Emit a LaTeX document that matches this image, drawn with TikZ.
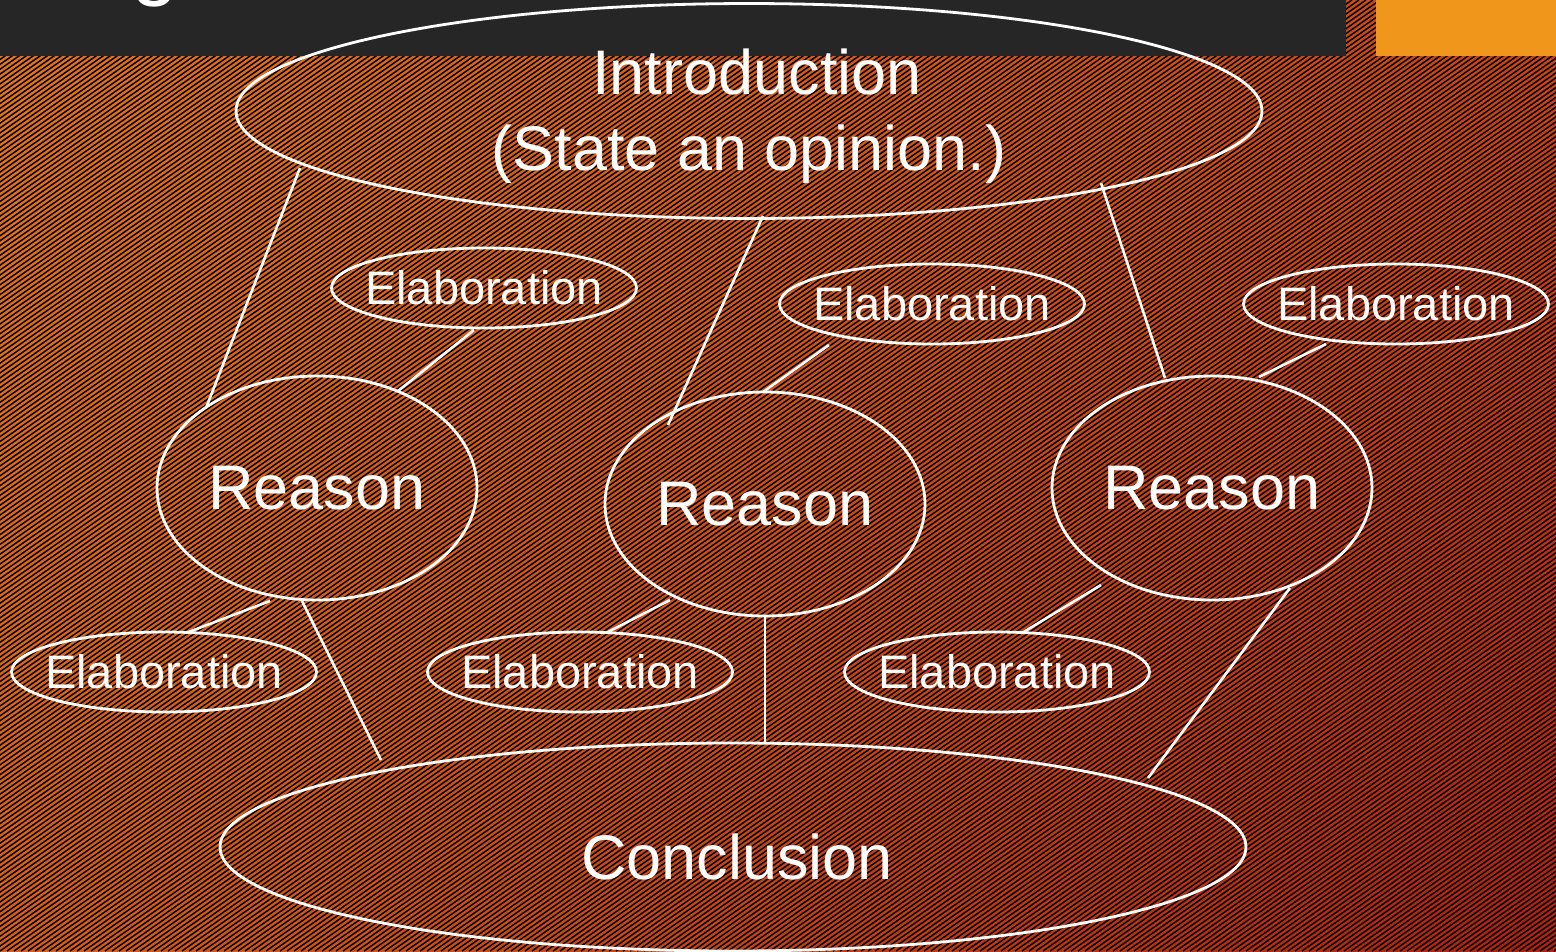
\documentclass[tikz,border=0pt]{standalone}
\usepackage{fontspec}
\setmainfont{Liberation Sans}
\usetikzlibrary{shapes.geometric,shadings}
\definecolor{barbg}{RGB}{38,38,38}
\definecolor{accent}{RGB}{240,150,26}
\definecolor{bgtl}{RGB}{232,118,32}
\definecolor{bgtr}{RGB}{206,70,22}
\definecolor{bgbl}{RGB}{220,96,26}
\definecolor{bgbr}{RGB}{176,34,18}
\begin{document}
\begin{tikzpicture}[x=1pt,y=-1pt,
  ell/.style={draw=white, line width=2.8pt, ellipse, inner sep=0pt, text=white},
  bigfont/.style={font=\fontsize{63}{76}\selectfont},
  elab/.style={ell, minimum width=305pt, minimum height=80pt, font=\fontsize{47}{56}\selectfont},
  reason/.style={ell, bigfont, minimum width=320pt, minimum height=224pt},
  conn/.style={draw=white, line width=2.6pt}]
\clip (0,0) rectangle (1556,951);
\shade[upper left=bgtl, upper right=bgtr, lower left=bgbl, lower right=bgbr] (0,0) rectangle (1556,951);
\foreach \i in {-1365,-1358,...,1560} \draw[black, line width=1.5pt] (\i,951) -- ++(1359,-951);
\fill[barbg] (0,0) rectangle (1346,56);
\fill[accent] (1376,0) rectangle (1556,56);
\node[anchor=south, inner sep=0pt, text=white, font=\fontsize{85}{100}\selectfont] (title) at (155,7) {g};
% main nodes
\node[ell, bigfont, minimum width=1026pt, minimum height=210pt] (intro) at (749,111)
  {\raisebox{-6pt}[\height][\depth]{\begin{tabular}{@{}c@{}}\hspace{16pt}Introduction\\(State an opinion.)\end{tabular}}};
\node[reason] (rl) at (317,488) {Reason};
\node[reason] (rm) at (765,504) {Reason};
\node[reason] (rr) at (1212,488) {Reason};
\node[elab] (ea) at (484,288) {\makebox[0pt]{Elaboration}};
\node[elab] (eb) at (932,304) {\makebox[0pt]{Elaboration}};
\node[elab] (ec) at (1396,304) {\makebox[0pt]{Elaboration}};
\node[elab] (ed) at (164,672) {\makebox[0pt]{Elaboration}};
\node[elab] (ee) at (580,672) {\makebox[0pt]{Elaboration}};
\node[elab] (ef) at (997,672) {\makebox[0pt]{Elaboration}};
\node[ell, bigfont, minimum width=1026pt, minimum height=208pt] (concl) at (733,847)
  {\raisebox{-10pt}[\height][\depth]{\hspace{8pt}Conclusion}};
% connectors
\draw[conn] ([shift={(-449,57)}]intro.center) -- ([shift={(-111,-80)}]rl.center);
\draw[conn] ([shift={(14,105)}]intro.center) -- ([shift={(-97,-79)}]rm.center);
\draw[conn] ([shift={(352,72)}]intro.center) -- ([shift={(-47,-110)}]rr.center);
\draw[conn] ([shift={(-10,42)}]ea.center) -- ([shift={(81,-97)}]rl.center);
\draw[conn] ([shift={(-103,41)}]eb.center) -- ([shift={(-2,-112)}]rm.center);
\draw[conn] ([shift={(-70,40)}]ec.center) -- ([shift={(47,-111)}]rr.center);
\draw[conn] ([shift={(-47,113)}]rl.center) -- ([shift={(22,-39)}]ed.center);
\draw[conn] ([shift={(-95,96)}]rm.center) -- ([shift={(26,-39)}]ee.center);
\draw[conn] ([shift={(-111,97)}]rr.center) -- ([shift={(25,-39)}]ef.center);
\draw[conn] ([shift={(-15,113)}]rl.center) -- ([shift={(-352,-87)}]concl.center);
\draw[conn] ([shift={(0,112)}]rm.center) -- ([shift={(32,-103)}]concl.center);
\draw[conn] ([shift={(78,100)}]rr.center) -- ([shift={(415,-69)}]concl.center);
\end{tikzpicture}
\end{document}
